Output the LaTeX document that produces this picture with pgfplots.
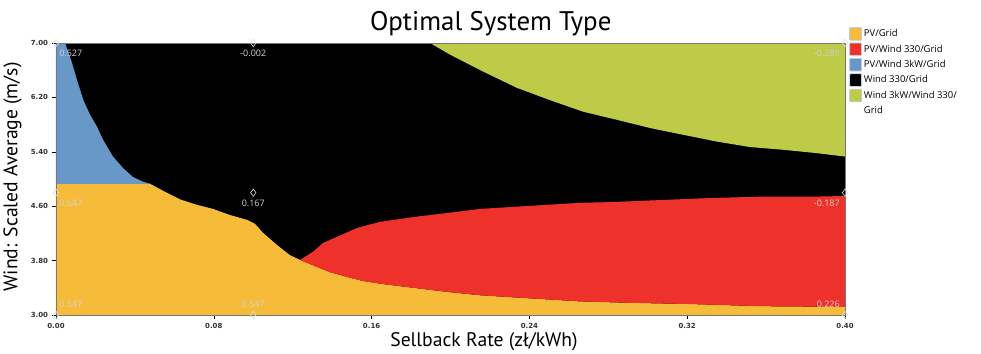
\documentclass[border=0pt]{standalone}
\usepackage{pgfplots}
\pgfplotsset{compat=1.18}
\usepackage{fontspec}
\setmainfont{PT Sans}
\newfontfamily\tickfont{DejaVu Sans}
\newfontfamily\legfont{Open Sans}

\definecolor{cyellow}{RGB}{247,187,58}
\definecolor{cred}{RGB}{238,50,43}
\definecolor{cblue}{RGB}{104,152,200}
\definecolor{cgreen}{RGB}{190,203,72}
\definecolor{framegray}{RGB}{120,120,120}
\definecolor{legedge}{RGB}{190,205,225}
\definecolor{vallab}{RGB}{210,210,210}

\begin{document}
\begin{tikzpicture}
\begin{axis}[
  scale only axis,
  width=789bp, height=272bp,
  xmin=0, xmax=0.40, ymin=3, ymax=7,
  clip=false,
  axis line style={framegray, line width=0.8bp},
  xtick={0,0.08,0.16,0.24,0.32,0.40},
  ytick={3.00,3.80,4.60,5.40,6.20,7.00},
  xticklabels={0.00,0.08,0.16,0.24,0.32,0.40},
  yticklabels={3.00,3.80,4.60,5.40,6.20,7.00},
  tick align=outside,
  xtick pos=bottom, ytick pos=left,
  major tick length=3.5bp,
  tick style={black, line width=0.6bp},
  ticklabel style={font=\tickfont\bfseries\fontsize{7}{8}\selectfont, text=black!80},
  xticklabel style={yshift=-1bp},
  yticklabel style={xshift=-1bp},
  title={Optimal System Type},
  title style={font=\fontsize{27}{30}\selectfont, at={(rel axis cs:0.551,1)}, anchor=base, yshift=7bp},
  xlabel={Sellback Rate (zł/kWh)},
  xlabel style={font=\fontsize{19.7}{22}\selectfont, at={(rel axis cs:0.5425,-0.115)}, anchor=base},
  ylabel={Wind: Scaled Average (m/s)},
  ylabel style={font=\fontsize{19.7}{22}\selectfont, at={(rel axis cs:-0.055,0.508)}, anchor=center},
  legend style={draw=none, fill=none, at={(rel axis cs:1,1)}, anchor=north west,
    xshift=2bp, yshift=18bp, font=\legfont\fontsize{9.5}{11}\selectfont,
    row sep=2bp, inner sep=2bp,
    cells={anchor=west}},
  legend image code/.code={\draw[#1, draw=legedge, line width=0.8bp, rounded corners=0.8bp] (0bp,-6.3bp) rectangle (12bp,6.3bp);},
]

% Wind 330/Grid fills the remaining space
\addplot[fill=black, draw=none, forget plot] coordinates {
  (0,3) (0.40,3) (0.40,7) (0,7)
} -- cycle;

% PV/Grid
\addplot[fill=cyellow, draw=none, forget plot] coordinates {
  (0,3) (0,4.93) (0.0477,4.93) (0.0560,4.80) (0.0629,4.70) (0.0715,4.62)
  (0.0796,4.56) (0.0882,4.47) (0.0968,4.40) (0.1009,4.34) (0.1049,4.21)
  (0.1120,4.03) (0.1186,3.88) (0.1237,3.81) (0.1303,3.73) (0.1389,3.63)
  (0.1475,3.56) (0.1556,3.50) (0.1643,3.46) (0.1810,3.40) (0.1982,3.34)
  (0.2150,3.29) (0.2317,3.26) (0.2489,3.23) (0.2657,3.20) (0.2895,3.18)
  (0.3230,3.16) (0.3569,3.13) (0.40,3.12) (0.40,3)
} -- cycle;

% PV/Wind 3kW/Grid
\addplot[fill=cblue, draw=none, forget plot] coordinates {
  (0,4.93) (0,7) (0.0046,7) (0.0081,6.71) (0.0106,6.46) (0.0140,6.15)
  (0.0172,5.95) (0.0208,5.77) (0.0238,5.58) (0.0289,5.33) (0.0340,5.16)
  (0.0390,5.03) (0.0441,4.96) (0.0477,4.93)
} -- cycle;

% PV/Wind 330/Grid
\addplot[fill=cred, draw=none, forget plot] coordinates {
  (0.1237,3.81) (0.1303,3.93) (0.1354,4.06) (0.1425,4.15) (0.1526,4.28)
  (0.1643,4.37) (0.1810,4.44) (0.1982,4.50) (0.2150,4.56) (0.2317,4.59)
  (0.2489,4.62) (0.2657,4.65) (0.2809,4.66) (0.3062,4.69) (0.3316,4.72)
  (0.3569,4.74) (0.3823,4.74) (0.40,4.75)
  (0.40,3.12) (0.3569,3.13) (0.3230,3.16) (0.2895,3.18) (0.2657,3.20)
  (0.2489,3.23) (0.2317,3.26) (0.2150,3.29) (0.1982,3.34) (0.1810,3.40)
  (0.1643,3.46) (0.1556,3.50) (0.1475,3.56) (0.1389,3.63) (0.1303,3.73)
} -- cycle;

% Wind 3kW/Wind 330/Grid
\addplot[fill=cgreen, draw=none, forget plot] coordinates {
  (0.1896,7.00) (0.1997,6.83) (0.2165,6.58) (0.2337,6.34) (0.2504,6.16)
  (0.2672,5.99) (0.2844,5.87) (0.3011,5.75) (0.3179,5.65) (0.3351,5.55)
  (0.3518,5.47) (0.3686,5.43) (0.3858,5.38) (0.40,5.33) (0.40,7.00)
} -- cycle;

% redraw the frame on top of the filled regions
\draw[framegray, line width=0.8bp] (rel axis cs:0,0) rectangle (rel axis cs:1,1);

% sensitivity points with their values
\pgfplotsset{valmarks/.style={only marks, mark=diamond, mark size=3.6bp,
  mark options={draw=white!75!gray, fill=none, line width=0.6bp},
  nodes near coords, point meta=explicit symbolic,
  every node near coord/.append style={font=\legfont\fontsize{9}{10}\selectfont, text=vallab, inner sep=1bp},
  forget plot}}
\addplot[valmarks, every node near coord/.append style={anchor=north west, xshift=2bp, yshift=-6bp}]
  coordinates {(0,7.00) [0.527] (0,4.80) [0.547]};
\addplot[valmarks, every node near coord/.append style={anchor=south west, xshift=2bp, yshift=6bp}]
  coordinates {(0,3.00) [0.547]};
\addplot[valmarks, every node near coord/.append style={anchor=north, yshift=-6bp}]
  coordinates {(0.10,7.00) [-0.002] (0.10,4.80) [0.167]};
\addplot[valmarks, every node near coord/.append style={anchor=south, yshift=6bp}]
  coordinates {(0.10,3.00) [0.547]};
\addplot[valmarks, every node near coord/.append style={anchor=north east, xshift=-4bp, yshift=-6bp}]
  coordinates {(0.40,7.00) [-0.289] (0.40,4.80) [-0.187]};
\addplot[valmarks, every node near coord/.append style={anchor=south east, xshift=-4bp, yshift=6bp}]
  coordinates {(0.40,3.00) [0.226]};

\addlegendimage{fill=cyellow, draw=none}
\addlegendentry{PV/Grid}
\addlegendimage{fill=cred, draw=none}
\addlegendentry{PV/Wind 330/Grid}
\addlegendimage{fill=cblue, draw=none}
\addlegendentry{PV/Wind 3kW/Grid}
\addlegendimage{fill=black, draw=none}
\addlegendentry{Wind 330/Grid}
\addlegendimage{fill=cgreen, draw=none}
\addlegendentry{Wind 3kW/Wind 330/}
\addlegendimage{empty legend}
\addlegendentry{Grid}
\end{axis}
\path ([shift={(-56bp,-36bp)}]current axis.south west) rectangle ([shift={(136bp,43bp)}]current axis.north east);
\end{tikzpicture}
\end{document}
